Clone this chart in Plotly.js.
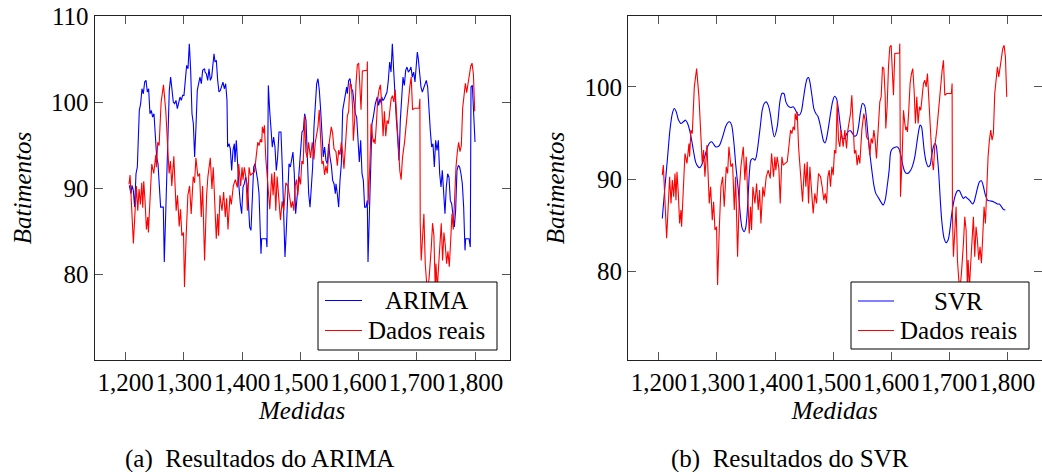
<!DOCTYPE html>
<html>
<head>
<meta charset="utf-8">
<script src="https://cdn.plot.ly/plotly-3.0.1.min.js"></script>
<style>html,body{margin:0;padding:0;background:#fff;}#chart{width:1042px;height:472px;}</style>
</head>
<body>
<div id="chart"></div>
<script>
// ---- Data ----
const xTickVals = [1200, 1300, 1400, 1500, 1600, 1700, 1800];
const xTickText = ['1,200', '1,300', '1,400', '1,500', '1,600', '1,700', '1,800'];
const yTickVals1 = [80, 90, 100, 110];
const yTickVals2 = [80, 90, 100];
const seriesNames1 = ['ARIMA', 'Dados reais'];
const seriesNames2 = ['SVR', 'Dados reais'];
const captions = ['(a)\u00a0 Resultados do ARIMA', '(b)\u00a0 Resultados do SVR'];

const realX = [1205.7,1207.5,1213.2,1218.4,1220.7,1223.0,1225.3,1227.6,1229.3,1231.0,1233.3,1235.6,1237.9,1239.0,1244.8,1248.2,1251.7,1252.8,1255.1,1257.4,1260.9,1264.9,1268.9,1272.3,1274.6,1276.9,1279.2,1282.7,1285.0,1286.7,1289.0,1291.9,1294.2,1296.5,1299.3,1301.0,1303.9,1306.8,1309.7,1312.5,1316.0,1318.3,1320.6,1324.0,1326.9,1329.8,1332.1,1335.5,1339.0,1341.2,1345.3,1348.1,1350.4,1355.6,1357.9,1359.6,1361.9,1365.4,1368.2,1371.1,1373.4,1375.7,1379.1,1381.4,1384.9,1388.3,1391.8,1394.1,1397.5,1399.8,
1401.5,1403.8,1406.7,1409.0,1411.9,1414.2,1417.6,1421.1,1423.9,1426.8,1429.1,1431.4,1433.7,1434.8,1437.1,1438.3,1440.6,1442.9,1445.7,1447.5,1450.9,1453.2,1455.5,1457.8,1460.1,1463.6,1465.8,1468.7,1471.6,1475.0,1478.5,1481.3,1484.2,1486.5,1488.8,1491.1,1493.4,1495.7,1498.0,1500.3,1502.6,1504.9,1507.2,1509.5,1511.8,1514.1,1517.5,1520.4,1523.3,1525.6,1527.9,1530.2,1532.4,1534.8,1537.0,1539.3,1541.6,1543.9,1546.2,1549.7,1553.1,1555.4,1557.7,1561.2,1563.5,1565.8,1568.1,1570.4,1572.6,1574.9,1578.4,1580.7,1583.0,1585.3,1587.6,1589.9,1591.0,1593.3,1595.6,
1597.9,1600.2,1601.9,1604.2,1606.5,1611.1,1614.6,1615.1,1616.3,1619.2,1621.5,1623.8,1625.5,1627.2,1628.3,1630.6,1632.9,1635.2,1637.5,1639.8,1642.1,1644.4,1646.7,1649.0,1651.3,1653.6,1655.9,1658.2,1660.5,1662.8,1663.9,1666.2,1668.5,1670.8,1673.1,1675.4,1678.9,1681.2,1684.6,1688.1,1690.4,1692.7,1696.1,1704.1,1705.3,1705.9,1707.6,1709.9,1712.2,1714.5,1716.8,1719.1,1721.4,1724.8,1727.1,1729.4,1731.7,1732.9,1735.2,1737.4,1739.7,1742.0,1744.3,1746.6,1748.9,1751.2,1753.5,1755.8,1758.1,1760.4,1762.7,1765.0,1767.3,1769.6,1771.9,1774.2,1776.5,1778.8,1781.1,1783.4,1785.7,1788.0,1790.3,1792.6,1794.9,1797.2,1799.5];
const realY = [90.42,91.51,83.56,90.24,87.35,89.88,88.08,90.60,87.71,90.79,88.44,85.18,86.63,84.82,92.78,91.69,93.86,92.41,95.31,94.94,100.0,101.99,98.92,94.22,91.69,93.14,90.24,93.68,90.60,87.35,89.16,85.54,87.53,84.46,84.82,78.50,84.46,89.16,90.24,86.99,91.33,90.60,93.50,91.33,91.69,86.63,90.24,81.57,89.16,91.33,93.50,89.88,92.41,84.10,86.99,84.46,89.16,87.35,89.52,86.63,88.80,85.18,89.16,88.08,90.24,90.97,90.06,92.78,90.24,92.41,
90.97,92.41,91.15,87.35,92.41,91.51,91.69,91.87,93.50,95.31,94.94,95.67,95.31,97.11,96.39,97.29,93.50,91.33,89.52,87.53,91.69,89.16,91.87,87.35,91.33,88.44,86.27,88.44,87.35,90.60,90.24,89.16,87.71,88.44,87.35,90.24,90.97,89.16,91.33,90.42,93.14,92.78,98.38,94.22,93.50,95.31,93.50,95.31,93.32,95.31,96.39,97.11,99.10,95.31,92.78,93.14,91.51,92.59,91.69,95.31,97.11,96.39,94.58,94.22,92.59,94.40,93.86,95.31,94.22,92.23,95.67,98.38,98.92,102.17,101.99,99.10,95.49,97.84,102.17,
104.34,104.52,102.54,99.10,103.62,103.69,103.69,104.70,88.08,92.41,97.47,96.03,95.31,95.67,95.12,97.47,100.37,101.45,101.99,99.64,96.03,98.92,96.03,97.84,97.47,98.92,100.37,100.73,100.0,101.45,100.0,96.75,94.58,92.05,90.97,93.50,95.31,97.11,99.64,101.81,102.90,99.10,99.28,99.28,100.37,85.91,81.57,85.18,86.99,81.21,79.04,78.2,79.76,83.0,85.91,84.46,78.2,81.21,78.3,80.85,83.0,85.91,81.57,84.82,83.38,81.21,82.65,80.85,83.74,86.99,85.18,89.88,92.41,94.22,95.31,94.22,94.94,99.28,100.73,102.17,101.09,102.17,103.44,104.16,104.52,103.26,98.92];

const arimaX = [1206.2,1209.1,1210.8,1213.1,1215.4,1217.7,1220.0,1221.7,1223.4,1225.7,1228.0,1230.3,1232.6,1234.9,1237.2,1239.4,1241.7,1244.0,1246.3,1248.6,1250.9,1253.2,1255.5,1257.8,1260.0,1262.3,1264.6,1266.3,1268.1,1270.4,1272.6,1274.9,1277.2,1279.5,1281.8,1284.1,1286.4,1288.7,1291.0,1293.3,1295.5,1297.8,1300.1,1302.4,1304.7,1307.0,1309.3,1311.6,1313.9,1316.2,1318.4,1320.7,1323.0,1325.3,1327.6,1329.9,1332.2,1335.6,
1336.2,1338.5,1340.8,1343.1,1345.4,1347.7,1349.9,1351.7,1353.4,1355.7,1358.0,1360.2,1362.5,1364.8,1367.1,1369.4,1371.7,1374.0,1375.1,1377.4,1379.7,1382.0,1384.3,1386.6,1387.7,1390.0,1392.3,1394.6,1396.9,1399.2,1401.5,1403.8,1406.0,1408.3,1410.6,1412.9,1415.2,1417.5,1419.8,1422.1,1424.4,1426.7,1429.0,1431.2,1432.4,1433.5,1438.1,1441.5,1442.7,1443.8,1445.0,1447.3,1449.6,1451.8,1454.1,1456.4,1458.7,1461.0,1463.3,1466.7,1469.0,1471.3,1473.6,1475.9,1478.2,1480.5,1482.8,1485.0,1487.3,1489.6,1491.9,
1495.9,1498.2,1500.5,1502.8,1505.1,1507.4,1509.7,1512.0,1514.3,1516.6,1518.8,1521.1,1523.4,1525.7,1528.0,1530.3,1532.6,1534.9,1537.2,1539.4,1541.7,1544.0,1546.3,1548.6,1550.9,1553.2,1555.5,1557.8,1560.1,1561.2,1563.5,1565.8,1568.1,1570.4,1572.7,1574.9,1577.2,1579.5,1580.7,1581.8,1583.0,1585.3,1587.5,1589.8,1592.1,1594.4,1596.7,1599.0,1601.3,1603.6,1605.9,1608.2,1610.4,1612.7,1615.0,1616.2,1618.5,1620.7,1623.0,1625.3,1628.8,1632.2,1634.5,1636.8,1639.1,
1639.7,1641.9,1644.2,1646.5,1648.8,1651.1,1653.4,1655.7,1658.0,1660.3,1662.6,1664.8,1667.1,1669.4,1671.7,1674.0,1676.3,1678.6,1680.9,1683.2,1685.5,1687.7,1690.0,1692.3,1694.6,1696.9,1699.2,1700.9,1702.6,1704.9,1707.2,1709.5,1711.8,1714.1,1716.4,1718.7,1720.9,1723.2,1725.5,1727.8,1730.1,1732.4,1734.7,1737.0,1739.3,1741.6,1743.8,1746.1,1748.4,1750.7,1753.0,1755.3,1757.6,1759.9,1762.2,1764.5,1766.7,1769.0,1771.3,1773.6,1775.9,1778.2,1780.5,1781.6,1782.8,1783.9,1789.7,1791.9,1793.1,1795.4,1797.7,1800.0];
const arimaY = [90.30,89.33,90.30,89.72,87.78,91.66,92.44,96.31,99.03,99.80,101.54,100.96,102.32,102.51,101.16,101.54,98.64,99.03,98.25,98.64,95.15,93.60,92.82,90.11,87.78,87.78,87.78,81.39,86.23,92.05,95.54,101.35,102.90,101.74,99.99,99.80,100.19,99.22,99.99,100.58,100.19,100.77,100.77,102.90,104.26,103.87,106.78,103.68,98.64,97.47,93.60,97.09,101.35,102.13,102.90,102.13,103.68,103.87,
103.48,103.29,102.51,103.87,102.51,102.90,104.45,105.61,104.65,104.84,102.51,101.16,101.35,101.74,102.32,101.54,102.13,100.19,94.76,95.15,94.57,92.05,94.37,95.15,93.02,95.54,92.44,90.11,88.17,87.01,90.11,90.50,91.27,90.50,88.56,85.46,85.07,89.33,92.44,92.82,92.05,90.89,89.33,84.68,82.36,84.10,84.10,84.10,83.13,101.74,101.93,99.03,96.31,94.76,95.92,94.76,92.05,93.60,96.51,96.51,92.44,86.23,81.97,85.07,89.72,92.82,92.44,93.60,94.18,91.66,87.01,
90.11,92.44,94.76,96.51,96.70,98.64,97.86,93.21,89.33,87.78,90.11,92.44,97.09,100.19,102.13,102.71,101.35,99.03,95.54,93.60,94.76,93.21,92.82,95.15,93.60,92.63,90.89,90.50,89.33,90.50,89.33,87.78,90.89,92.82,99.03,99.80,100.77,101.74,100.96,102.13,102.51,102.71,101.54,101.35,99.80,98.64,98.25,95.15,93.02,95.54,91.66,90.89,87.78,87.78,88.56,81.39,87.78,94.37,97.47,98.25,99.80,100.58,99.61,100.38,99.80,
100.58,100.19,100.38,100.77,101.16,102.51,104.65,103.48,106.78,103.68,100.19,98.06,95.92,93.21,97.86,100.96,102.90,101.93,103.68,104.06,103.48,103.68,104.06,102.90,103.48,102.32,104.45,105.81,105.03,103.48,101.74,101.16,101.54,101.93,102.51,101.74,98.64,96.70,94.76,95.15,92.44,95.54,94.37,95.54,91.66,90.11,92.05,88.95,87.01,90.11,91.66,91.27,88.56,88.17,86.62,85.46,87.40,92.05,92.63,92.44,91.66,90.50,87.78,85.46,82.75,84.10,84.10,83.13,101.74,101.93,98.64,95.34];

const svrX = [1205.7,1210.3,1214.9,1218.9,1223.0,1226.4,1229.8,1233.3,1237.9,1241.9,1245.9,1249.4,1252.8,1256.3,1259.7,1263.1,1266.6,1270.0,1273.5,1276.9,1280.4,1283.8,1287.3,1290.7,1294.2,1297.6,1301.1,1304.5,1307.9,1311.4,1314.8,1318.3,1321.7,1325.2,1327.5,1329.8,1332.1,1334.4,1336.7,1339.0,1341.2,1343.5,1347.0,1349.3,1351.6,1353.9,1356.2,1358.5,1361.9,1365.4,1367.7,1371.1,1374.6,1378.0,1381.4,1384.9,1388.3,1391.8,1395.2,1398.7,
1403.8,1408.4,1411.9,1415.3,1418.8,1422.8,1426.8,1431.4,1434.8,1438.3,1441.7,1445.2,1448.6,1452.1,1455.5,1457.8,1460.1,1463.6,1467.0,1470.4,1473.9,1477.3,1480.8,1484.2,1486.5,1488.8,1492.3,1495.7,1499.2,1502.6,1506.0,1509.5,1512.9,1516.4,1519.8,1523.3,1526.7,1530.2,1533.6,1537.0,1540.5,1543.9,1547.4,1550.8,1554.3,1557.7,1560.0,1563.5,1566.9,1570.4,1573.8,1577.2,1580.7,1584.1,1586.4,1589.9,1593.3,1596.8,
1599.6,1603.1,1606.5,1610.0,1613.4,1616.9,1620.3,1623.8,1627.2,1630.6,1634.1,1637.5,1641.0,1644.4,1647.9,1650.2,1652.5,1654.8,1657.1,1660.5,1663.9,1667.4,1669.7,1673.1,1675.4,1677.7,1680.0,1682.3,1684.6,1686.9,1689.2,1691.5,1695.0,1698.4,1701.8,1704.1,1707.6,1711.0,1714.5,1717.9,1721.4,1724.8,1728.3,1731.7,1735.2,1738.6,1740.9,1743.2,1745.5,1748.9,1752.4,1755.8,1759.3,1762.7,1766.2,1769.6,1773.1,1776.5,1779.9,1783.4,1786.8,1790.3,1793.7,1797.2];
const svrY = [85.72,89.16,92.41,95.31,97.11,97.65,97.29,96.46,96.03,96.21,96.39,96.03,95.31,94.22,92.96,91.87,91.40,91.22,91.51,92.05,92.77,93.50,93.93,94.04,93.79,93.50,93.50,93.68,94.22,94.94,95.67,96.10,96.21,95.85,94.94,93.50,91.69,90.24,88.80,86.99,85.54,84.64,84.28,84.64,85.91,88.44,90.97,92.05,92.23,92.05,92.41,93.86,95.67,97.47,98.20,98.38,98.02,97.11,95.67,94.58,
95.67,98.38,99.28,99.28,98.38,97.91,97.76,97.84,97.55,97.11,96.93,97.29,98.56,100.01,100.91,101.02,100.55,99.10,97.65,97.11,96.82,96.03,94.94,94.04,93.93,94.40,95.67,97.11,98.38,98.99,98.74,97.47,95.67,94.40,94.40,94.87,95.20,95.23,94.94,94.65,94.76,95.67,97.29,98.20,98.02,96.57,94.94,92.77,90.97,89.34,88.44,88.08,87.71,87.35,87.17,87.71,89.16,90.97,
92.96,93.32,93.43,93.50,93.32,92.59,91.51,90.79,90.60,90.68,90.97,91.51,92.41,93.86,95.31,95.85,95.67,94.58,93.14,91.87,91.33,91.51,92.41,93.50,93.86,93.68,92.41,90.60,88.08,85.91,84.46,83.56,83.09,83.38,84.64,85.91,87.35,88.26,88.73,88.73,88.26,87.89,88.08,87.89,87.71,87.42,87.28,87.53,88.08,88.98,89.70,89.81,89.16,88.26,87.71,87.64,87.60,87.53,87.42,87.28,87.28,87.00,86.70,86.63];

// ---- Styling ----
const W = 1042, H = 472;
const FONT = 'Liberation Serif';
const BLUE = '#0000ff', RED = '#ff0000';
const TXT = {family: FONT, size: 25, color: '#000'};

const traces = [
  {x: arimaX, y: arimaY, xaxis: 'x', yaxis: 'y', type: 'scatter', mode: 'lines', name: seriesNames1[0],
   line: {color: BLUE, width: 1.1}},
  {x: realX, y: realY, xaxis: 'x', yaxis: 'y', type: 'scatter', mode: 'lines', name: seriesNames1[1],
   line: {color: RED, width: 1.1}},
  {x: svrX, y: svrY, xaxis: 'x2', yaxis: 'y2', type: 'scatter', mode: 'lines', name: seriesNames2[0],
   line: {color: BLUE, width: 1.1, shape: 'spline', smoothing: 0.8}},
  {x: realX, y: realY, xaxis: 'x2', yaxis: 'y2', type: 'scatter', mode: 'lines', name: seriesNames2[1],
   line: {color: RED, width: 1.1}}
];

function xAxis(domain, anchor) {
  return {
    domain: domain, anchor: anchor, range: [1146.6, 1859.4],
    tickmode: 'array', tickvals: xTickVals, ticktext: xTickText, tickangle: 0,
    ticks: 'inside', ticklen: 8, tickwidth: 1, tickcolor: '#555',
    showline: true, linecolor: '#222', linewidth: 1, mirror: 'ticks',
    showgrid: false, zeroline: false, fixedrange: true,
    tickfont: {family: FONT, size: 25, color: '#000'},
    title: {text: '<i>Medidas</i>', font: {family: FONT, size: 25, color: '#000'}, standoff: 6}
  };
}
function yAxis(domain, anchor, range, vals) {
  return {
    domain: domain, anchor: anchor, range: range,
    tickmode: 'array', tickvals: vals, ticktext: vals.map(String),
    ticks: 'inside', ticklen: 8, tickwidth: 1, tickcolor: '#555',
    showline: true, linecolor: '#222', linewidth: 1, mirror: 'ticks',
    showgrid: false, zeroline: false, fixedrange: true,
    tickfont: {family: FONT, size: 25, color: '#000'},
    title: {text: '<i>Batimentos</i>', font: {family: FONT, size: 25, color: '#000'}, standoff: 12}
  };
}

const yDom = [1 - 360 / H, 1 - 16 / H];

// Legend boxes (drawn as paper-space shapes + text, like the pgfplots legend)
function legendBox(x0, x1, y0, y1, lx0, lx1, ly, tx, names, colors) {
  const shapes = [{type: 'rect', xref: 'paper', yref: 'paper', x0: x0 / W, x1: x1 / W, y0: 1 - y1 / H, y1: 1 - y0 / H,
                   fillcolor: '#fff', line: {color: '#000', width: 1}, layer: 'above'}];
  const ann = [];
  names.forEach((n, i) => {
    shapes.push({type: 'line', xref: 'paper', yref: 'paper', x0: lx0 / W, x1: lx1 / W, y0: 1 - ly[i] / H, y1: 1 - ly[i] / H,
                 line: {color: colors[i], width: 1.1}, layer: 'above'});
    ann.push({text: n, xref: 'paper', yref: 'paper', x: tx / W, y: 1 - ly[i] / H, xanchor: 'center', yanchor: 'middle',
              showarrow: false, font: {family: FONT, size: 25, color: '#000'}});
  });
  return {shapes, ann};
}
const lg1 = legendBox(318, 497, 282, 350, 325, 362, [300.5, 330.5], 426, seriesNames1, [BLUE, RED]);
const lg2 = legendBox(851, 1029, 282, 349, 858, 894, [301, 330.5], 958, seriesNames2, [BLUE, RED]);

const layout = {
  width: W, height: H,
  margin: {l: 0, r: 0, t: 0, b: 0},
  paper_bgcolor: '#fff', plot_bgcolor: '#fff',
  font: {family: FONT, size: 25, color: '#000'},
  showlegend: false,
  xaxis: xAxis([94.6 / W, 509.6 / W], 'y'),
  yaxis: yAxis(yDom, 'x', [70, 110], yTickVals1),
  xaxis2: xAxis([628 / W, 1041.5 / W], 'y2'),
  yaxis2: yAxis(yDom, 'x2', [70.35, 107.7], yTickVals2),
  shapes: lg1.shapes.concat(lg2.shapes),
  annotations: lg1.ann.concat(lg2.ann).concat([
    {text: captions[0], xref: 'paper', yref: 'paper', x: 259 / W, y: 1 - 459 / H,
     xanchor: 'center', yanchor: 'middle', showarrow: false, font: {family: FONT, size: 25, color: '#000'}},
    {text: captions[1], xref: 'paper', yref: 'paper', x: 790 / W, y: 1 - 459 / H,
     xanchor: 'center', yanchor: 'middle', showarrow: false, font: {family: FONT, size: 25, color: '#000'}}
  ])
};

Plotly.newPlot('chart', traces, layout, {displayModeBar: false, staticPlot: true});
</script>
</body>
</html>
